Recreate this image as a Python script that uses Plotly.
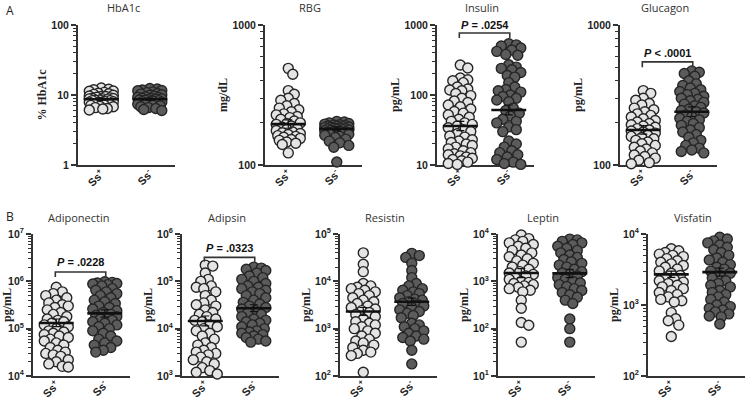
import math
import numpy as np
import plotly.graph_objects as go

# ---------------- data ----------------
titles = ["HbA1c", "RBG", "Insulin", "Glucagon",
          "Adiponectin", "Adipsin", "Resistin", "Leptin", "Visfatin"]
categories = ["Ss<sup>+</sup>", "Ss<sup>-</sup>"]
y_titles = ["% HbA1c", "mg/dL", "pg/mL", "pg/mL",
            "pg/mL", "pg/mL", "pg/mL", "pg/mL", "pg/mL"]
y_decades = [(0, 2), (2, 3), (1, 3), (2, 3), (4, 7), (3, 6), (2, 5), (1, 4), (2, 4)]
sup_labels = [False, False, False, False, True, True, True, True, True]

hba1c_pos = [12.6, 12.1, 11.9, 11.4, 11.3, 10.9, 10.6, 10.4, 10.2, 9.9, 9.7, 9.5, 9.5, 9.3,
             9.1, 9.0, 8.9, 8.8, 8.8, 8.6, 8.5, 8.4, 8.3, 8.3, 8.1, 8.0, 7.9, 7.8, 7.8, 7.6,
             7.5, 7.3, 7.2, 7.1, 6.9, 6.8, 6.6, 6.4, 6.3, 6.1]
hba1c_neg = [12.4, 12.2, 11.8, 11.6, 11.5, 11.1, 10.8, 10.5, 10.3, 10.1, 9.9, 9.6, 9.4, 9.3,
             9.2, 9.0, 8.9, 8.8, 8.7, 8.6, 8.5, 8.4, 8.3, 8.2, 8.0, 7.9, 7.7, 7.6, 7.4, 7.3,
             7.1, 7.0, 6.8, 6.6, 6.4, 6.2, 6.0]
rbg_pos = [490, 445, 340, 320, 300, 290, 275, 265, 255, 248, 240, 232, 228, 222, 218, 212,
           206, 200, 198, 195, 190, 186, 182, 180, 176, 172, 170, 168, 165, 162, 160, 158,
           155, 152, 150, 146, 143, 140, 122]
rbg_neg = [205, 203, 200, 198, 196, 194, 193, 191, 190, 189, 188, 187, 186, 185, 184, 183,
           182, 181, 180, 179, 178, 177, 176, 175, 174, 172, 171, 170, 168, 166, 165, 163,
           160, 157, 153, 148, 144, 138, 134, 105]
insulin_pos = [268, 243, 175, 165, 160, 150, 130, 122, 118, 115, 105, 98, 90, 82, 78, 72, 68,
               63, 58, 55, 52, 48, 45, 42, 40, 38, 36, 34, 32, 30, 28, 26, 25, 23, 22, 21, 20,
               19, 18, 17, 16, 15, 14.5, 14, 13.5, 13, 12.5, 12, 11.5, 11, 10.5, 10.2]
insulin_neg = [540, 520, 500, 470, 440, 420, 380, 370, 270, 250, 240, 230, 210, 190, 180,
               150, 130, 120, 115, 110, 100, 95, 90, 85, 80, 65, 60, 55, 50, 45, 42, 40, 35,
               32, 30, 22, 20, 18, 16, 15, 14, 13, 12, 11, 10.5, 10.2]
glucagon_pos = [340, 325, 300, 290, 275, 268, 255, 248, 240, 232, 226, 220, 214, 208, 203,
                198, 194, 190, 186, 182, 178, 175, 172, 169, 166, 163, 160, 157, 154, 150,
                146, 142, 138, 134, 130, 126, 122, 118, 115, 112, 108, 104, 102]
glucagon_neg = [470, 460, 450, 430, 400, 380, 370, 355, 345, 335, 325, 318, 310, 300, 295,
                288, 280, 272, 265, 258, 250, 245, 240, 235, 228, 222, 216, 210, 205, 198,
                192, 185, 178, 172, 165, 158, 150, 144, 138, 132, 128, 125, 122]
adiponectin_pos = [7.5e5, 6e5, 5.5e5, 5e5, 4.5e5, 4e5, 3.5e5, 3.2e5, 3e5, 2.8e5, 2.5e5, 2.2e5,
                   2e5, 1.8e5, 1.6e5, 1.5e5, 1.4e5, 1.3e5, 1.2e5, 1.1e5, 1e5, 9e4, 8.5e4, 8e4,
                   7.5e4, 7e4, 6.5e4, 6e4, 5.5e4, 5e4, 4.5e4, 4e4, 3.5e4, 3.2e4, 3e4, 2.8e4,
                   2.6e4, 2.2e4, 2e4, 1.8e4, 1.6e4, 1.55e4]
adiponectin_neg = [9.8e5, 9.5e5, 9.2e5, 9e5, 8.8e5, 8.5e5, 8e5, 7e5, 6.5e5, 6e5, 5.5e5, 5e5,
                   4.5e5, 4e5, 3.7e5, 3.4e5, 3e5, 2.8e5, 2.6e5, 2.4e5, 2.2e5, 2e5, 1.9e5,
                   1.8e5, 1.7e5, 1.6e5, 1.5e5, 1.4e5, 1.3e5, 1.2e5, 1.1e5, 1e5, 9e4, 8e4, 7e4,
                   6e4, 5.5e4, 5e4, 4.5e4, 4e4, 3.5e4, 3.2e4]
adipsin_pos = [2.2e5, 2.1e5, 1.5e5, 1.1e5, 1e5, 8e4, 7.5e4, 7e4, 6e4, 5e4, 4e4, 3.5e4, 3.2e4,
               3e4, 2.5e4, 2.2e4, 2e4, 1.8e4, 1.6e4, 1.5e4, 1.4e4, 1.2e4, 1.1e4, 1e4, 9e3,
               8e3, 7e3, 6e3, 5e3, 4.5e3, 4e3, 3.5e3, 3.2e3, 3e3, 2.8e3, 2.5e3, 2.2e3, 2e3,
               1.8e3, 1.5e3, 1.3e3, 1.2e3, 1.1e3]
adipsin_neg = [2e5, 1.9e5, 1.8e5, 1.7e5, 1.5e5, 1.3e5, 1.2e5, 1.1e5, 1e5, 9e4, 8e4, 7.5e4,
               7e4, 6.5e4, 6e4, 5.5e4, 5e4, 4.5e4, 4e4, 3.6e4, 3.3e4, 3e4, 2.8e4, 2.6e4,
               2.4e4, 2.2e4, 2e4, 1.8e4, 1.6e4, 1.5e4, 1.4e4, 1.3e4, 1.2e4, 1.1e4, 1e4, 9e3,
               8.5e3, 8e3, 7.5e3, 7e3, 6.5e3, 6e3, 5.5e3, 5.2e3]
resistin_pos = [4e4, 2.3e4, 1.6e4, 9e3, 8e3, 7.5e3, 7e3, 6.5e3, 6e3, 5.5e3, 5e3, 4.5e3, 4e3,
                3.7e3, 3.4e3, 3e3, 2.8e3, 2.6e3, 2.4e3, 2.2e3, 2e3, 1.8e3, 1.6e3, 1.4e3,
                1.3e3, 1.2e3, 1.1e3, 1e3, 900, 800, 700, 600, 550, 500, 450, 400, 350, 320,
                300, 270, 120]
resistin_neg = [3.9e4, 3.5e4, 3.2e4, 2.4e4, 1.7e4, 1.2e4, 9e3, 8e3, 7e3, 6.5e3, 6e3, 5.5e3,
                5e3, 4.5e3, 4.2e3, 4e3, 3.7e3, 3.4e3, 3.2e3, 3e3, 2.8e3, 2.5e3, 2.3e3, 2.1e3,
                1.9e3, 1.7e3, 1.3e3, 1.2e3, 1.1e3, 1e3, 900, 800, 700, 650, 600, 550, 350, 180]
leptin_pos = [9.5e3, 8e3, 7.5e3, 7e3, 6.5e3, 6e3, 5.5e3, 5e3, 4.5e3, 4e3, 3.6e3, 3.3e3, 3e3,
              2.7e3, 2.4e3, 2.2e3, 2e3, 1.8e3, 1.6e3, 1.5e3, 1.4e3, 1.3e3, 1.2e3, 1.1e3, 1e3,
              950, 900, 850, 800, 750, 700, 650, 600, 400, 270, 135, 118, 52]
leptin_neg = [7.8e3, 7.5e3, 7e3, 6.5e3, 6e3, 5.5e3, 5e3, 4.5e3, 4e3, 3.6e3, 3.2e3, 2.9e3,
              2.6e3, 2.4e3, 2.2e3, 2e3, 1.8e3, 1.6e3, 1.5e3, 1.4e3, 1.3e3, 1.2e3, 1.1e3, 1e3,
              920, 850, 780, 700, 640, 580, 520, 460, 400, 340, 160, 100, 52]
visfatin_pos = [6.2e3, 5.8e3, 5.5e3, 5.2e3, 5e3, 4.8e3, 4.5e3, 4.2e3, 4e3, 3.8e3, 3.6e3,
                3.4e3, 3.2e3, 3e3, 2.8e3, 2.6e3, 2.4e3, 2.3e3, 2.2e3, 2.1e3, 2e3, 1.9e3,
                1.8e3, 1.7e3, 1.6e3, 1.5e3, 1.4e3, 1.3e3, 1.2e3, 1.15e3, 1.1e3, 780, 640, 600,
                520, 360]
visfatin_neg = [9e3, 8.5e3, 8e3, 7.5e3, 7e3, 6.5e3, 6e3, 5.5e3, 5e3, 4.6e3, 4.3e3, 4e3,
                3.7e3, 3.4e3, 3.2e3, 3e3, 2.8e3, 2.6e3, 2.4e3, 2.2e3, 2e3, 1.9e3, 1.8e3,
                1.6e3, 1.5e3, 1.4e3, 1.3e3, 1.2e3, 1.1e3, 1e3, 950, 900, 850, 800, 750, 700,
                680, 540]

pos_series = [hba1c_pos, rbg_pos, insulin_pos, glucagon_pos, adiponectin_pos,
              adipsin_pos, resistin_pos, leptin_pos, visfatin_pos]
neg_series = [hba1c_neg, rbg_neg, insulin_neg, glucagon_neg, adiponectin_neg,
              adipsin_neg, resistin_neg, leptin_neg, visfatin_neg]

mean_pos = [8.7, 196, 36, 178, 1.32e5, 1.45e4, 2.3e3, 1.5e3, 2.7e3]
mean_neg = [8.7, 181, 61, 240, 2.1e5, 2.7e4, 3.7e3, 1.47e3, 2.9e3]
sem_pos_lo = [8.4, 183, 31, 166, 1.1e5, 1.15e4, 1.9e3, 1.2e3, 2.45e3]
sem_pos_hi = [9.0, 210, 42, 191, 1.6e5, 1.85e4, 2.8e3, 1.85e3, 3.0e3]
sem_neg_lo = [8.4, 175, 52, 222, 1.75e5, 2.3e4, 3.1e3, 1.2e3, 2.55e3]
sem_neg_hi = [9.0, 187, 72, 260, 2.5e5, 3.2e4, 4.4e3, 1.8e3, 3.3e3]

sig_panels = [2, 3, 4, 5]
sig_labels = [".0254", ".0001", ".0228", ".0323"]
sig_ops = ["=", "<", "=", "="]
sig_top = [770, 545, 1.57e6, 3.2e5]
sig_tip = [650, 500, 1.23e6, 2.6e5]
sig_text = [1000, 630, 2.6e6, 5.0e5]

# ---------------- layout geometry ----------------
W, H = 747, 401
axis_left_px = [78, 265, 437, 620, 33, 182, 340, 498, 648]
axis_w_px = 97
rowA = (25, 165)
rowB = (234, 376)
XR = (-0.48, 1.52)
ppu = axis_w_px / (XR[1] - XR[0])

AX = "#333333"
FILL_POS = "#e4e4e4"
FILL_NEG = "#5b5b5b"
EDGE = "#252525"
MS = 10


def swarm(vals, ppd, lo):
    ys = [(math.log10(v) - lo) * ppd for v in vals]
    cands = [0.0]
    k = 1
    while k * 1.5 <= 12:
        cands += [k * 1.5, -k * 1.5]
        k += 1
    placed = []
    out = []
    for y in ys:
        best, bestd = 0.0, -1
        chosen = None
        for c in cands:
            d = min((math.hypot(c - px, y - py) for px, py in placed), default=1e9)
            if d >= 7.0:
                chosen = c
                break
            if d > bestd:
                bestd, best = d, c
        if chosen is None:
            chosen = best
        placed.append((chosen, y))
        out.append(chosen / ppu)
    return out


fig = go.Figure()
layout = dict(width=W, height=H, autosize=False, margin=dict(l=0, r=0, t=0, b=0, pad=0),
              paper_bgcolor="white", plot_bgcolor="white", showlegend=False)
annotations = []

for i in range(9):
    suf = "" if i == 0 else str(i + 1)
    top_px, bot_px = rowA if i < 4 else rowB
    lo, hi = y_decades[i]
    ppd = (bot_px - top_px) / (hi - lo)
    x0 = axis_left_px[i]
    xa, ya = "x" + suf, "y" + suf

    for ci, (vals, fill) in enumerate([(pos_series[i], FILL_POS), (neg_series[i], FILL_NEG)]):
        offs = swarm(vals, ppd, lo)
        fig.add_trace(go.Scatter(
            x=[ci + o for o in offs], y=vals, mode="markers", xaxis=xa, yaxis=ya,
            cliponaxis=False, hoverinfo="skip",
            marker=dict(size=MS, color=fill, line=dict(color=EDGE, width=1.4))))

    for ci, (m, slo, shi) in enumerate([(mean_pos[i], sem_pos_lo[i], sem_pos_hi[i]),
                                        (mean_neg[i], sem_neg_lo[i], sem_neg_hi[i])]):
        fig.add_trace(go.Scatter(
            x=[ci - 0.36, ci + 0.36], y=[m, m], mode="lines", xaxis=xa, yaxis=ya,
            line=dict(color="#111111", width=2.6), hoverinfo="skip", cliponaxis=False))
        fig.add_trace(go.Scatter(
            x=[ci], y=[m], mode="markers", xaxis=xa, yaxis=ya, hoverinfo="skip",
            marker=dict(size=1, color="#111111"),
            error_y=dict(type="data", symmetric=False, array=[shi - m], arrayminus=[m - slo],
                         color="#111111", thickness=1.2, width=4)))

    if sup_labels[i]:
        tt = ["<b>10<sup>%d</sup></b>" % k for k in range(lo, hi + 1)]
    else:
        tt = ["<b>%g</b>" % (10 ** k) for k in range(lo, hi + 1)]
    minor_vals = [m * 10 ** k for k in range(lo, hi) for m in range(2, 10)]

    layout["xaxis" + suf] = dict(
        domain=[x0 / W, (x0 + axis_w_px) / W], range=list(XR), anchor=ya,
        tickvals=[0, 1], ticktext=["<b>%s</b>" % c for c in categories], tickangle=-45,
        tickfont=dict(family="Liberation Sans, Arial", size=11, color="#222"),
        ticklabelstandoff=-4,
        showline=True, linecolor=AX, linewidth=2, ticks="", showgrid=False,
        zeroline=False, layer="below traces", automargin=False)
    layout["yaxis" + suf] = dict(
        domain=[1 - bot_px / H, 1 - top_px / H], type="log", range=[lo, hi], anchor=xa,
        tickvals=[10 ** k for k in range(lo, hi + 1)], ticktext=tt,
        tickfont=dict(family="Liberation Sans, Arial", size=10.5, color="#222"),
        showline=True, linecolor=AX, linewidth=2, ticks="outside", ticklen=5,
        tickwidth=2, tickcolor=AX, showgrid=False, zeroline=False, layer="below traces",
        automargin=False,
        minor=dict(tickvals=minor_vals, ticks="outside", ticklen=3, tickwidth=1.2,
                   tickcolor=AX, showgrid=False),
        title=dict(text="<b>%s</b>" % y_titles[i], standoff=2,
                   font=dict(family="Liberation Serif, Times New Roman", size=12, color="#222")))

    annotations.append(dict(
        text=titles[i], xref="paper", yref="paper",
        x=(x0 + 45) / W, y=1 - (top_px - 17) / H, xanchor="center", yanchor="middle",
        showarrow=False, font=dict(family="Open Sans, Noto Sans", size=11, color="#333")))

for j, p in enumerate(sig_panels):
    suf = "" if p == 0 else str(p + 1)
    fig.add_trace(go.Scatter(
        x=[-0.02, -0.02, 1.02, 1.02], y=[sig_tip[j], sig_top[j], sig_top[j], sig_tip[j]],
        mode="lines", xaxis="x" + suf, yaxis="y" + suf, hoverinfo="skip", cliponaxis=False,
        line=dict(color="#333", width=1.6)))
    annotations.append(dict(
        text="<b><i>P</i> %s %s</b>" % (sig_ops[j], sig_labels[j]),
        xref="x" + suf, yref="y" + suf, x=0.5, y=math.log10(sig_text[j]),
        xanchor="center", yanchor="middle", showarrow=False,
        font=dict(family="Liberation Sans, Arial", size=11, color="#111")))

annotations.append(dict(text="A", xref="paper", yref="paper", x=4 / W, y=1 - 10 / H,
                        xanchor="left", yanchor="middle", showarrow=False,
                        font=dict(family="Open Sans", size=12, color="#222")))
annotations.append(dict(text="B", xref="paper", yref="paper", x=4 / W, y=1 - 216 / H,
                        xanchor="left", yanchor="middle", showarrow=False,
                        font=dict(family="Open Sans", size=12, color="#222")))
layout["annotations"] = annotations

fig.update_layout(**layout)
fig.write_html("out.html", config={"displayModeBar": False},
               post_script="document.body.style.margin='0';document.body.style.padding='0';")
